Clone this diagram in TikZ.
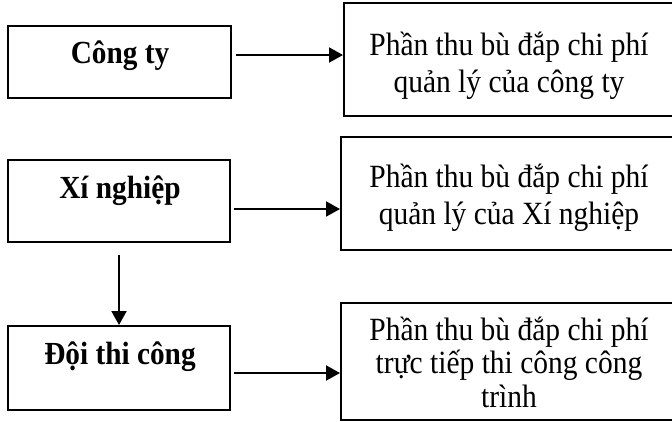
\documentclass[tikz,border=0pt]{standalone}
\usepackage{fontspec}
\setmainfont[FakeStretch=0.91]{Liberation Serif}
\usetikzlibrary{arrows.meta}
\tikzset{
  box/.style={draw, line width=2pt, inner sep=0pt, rectangle},
  ltext/.style={font=\fontsize{32.2}{36}\selectfont\bfseries, anchor=base, inner sep=0pt},
  rtext/.style={font=\fontsize{32.4}{36.5}\selectfont, anchor=base, align=center, inner sep=0pt},
  arr/.style={line width=2pt, -{Triangle[length=14pt,width=15pt]}}
}
\begin{document}
\begin{tikzpicture}[x=1pt,y=-1pt]
\useasboundingbox (0,0) rectangle (672,421);
\clip (0,0) rectangle (672,421);
% left boxes
\node[box, minimum width=223pt, minimum height=72pt] (c1) at (119.5,62) {};
\node[box, minimum width=222pt, minimum height=82pt] (c2) at (119,201) {};
\node[box, minimum width=222pt, minimum height=84pt] (c3) at (119,368) {};
\node[ltext] (t1) at (120,63) {Công ty};
\node[ltext] (t2) at (120,198) {Xí nghiệp};
\node[ltext] (t3) at (120,364) {Đội thi công};
% right boxes
\node[box, minimum width=330pt, minimum height=113pt] (r1) at (509,59.5) {};
\node[box, minimum width=334pt, minimum height=113pt] (r2) at (508,193.5) {};
\node[box, minimum width=334pt, minimum height=117pt] (r3) at (508,361.5) {};
\node[rtext] (s1) at (509,92) {Phần thu bù đắp chi phí\\quản lý của công ty};
\node[rtext] (s2) at (509,224) {Phần thu bù đắp chi phí\\quản lý của Xí nghiệp};
\node[rtext, font=\fontsize{32.4}{33.5}\selectfont] (s3) at (509,407) {Phần thu bù đắp chi phí\\trực tiếp thi công công\\trình};
% connectors
\draw[arr, shorten <=4pt] ([yshift=7pt]c1.east) -- ([yshift=7pt]c1.east -| r1.west);
\draw[arr, shorten <=3pt] ([yshift=-8pt]c2.east) -- ([yshift=-8pt]c2.east -| r2.west);
\draw[arr, shorten <=12pt] (c2.south) -- (c3.north);
\draw[arr, shorten <=3pt] ([yshift=-5pt]c3.east) -- ([yshift=-5pt]c3.east -| r3.west);
\end{tikzpicture}
\end{document}
